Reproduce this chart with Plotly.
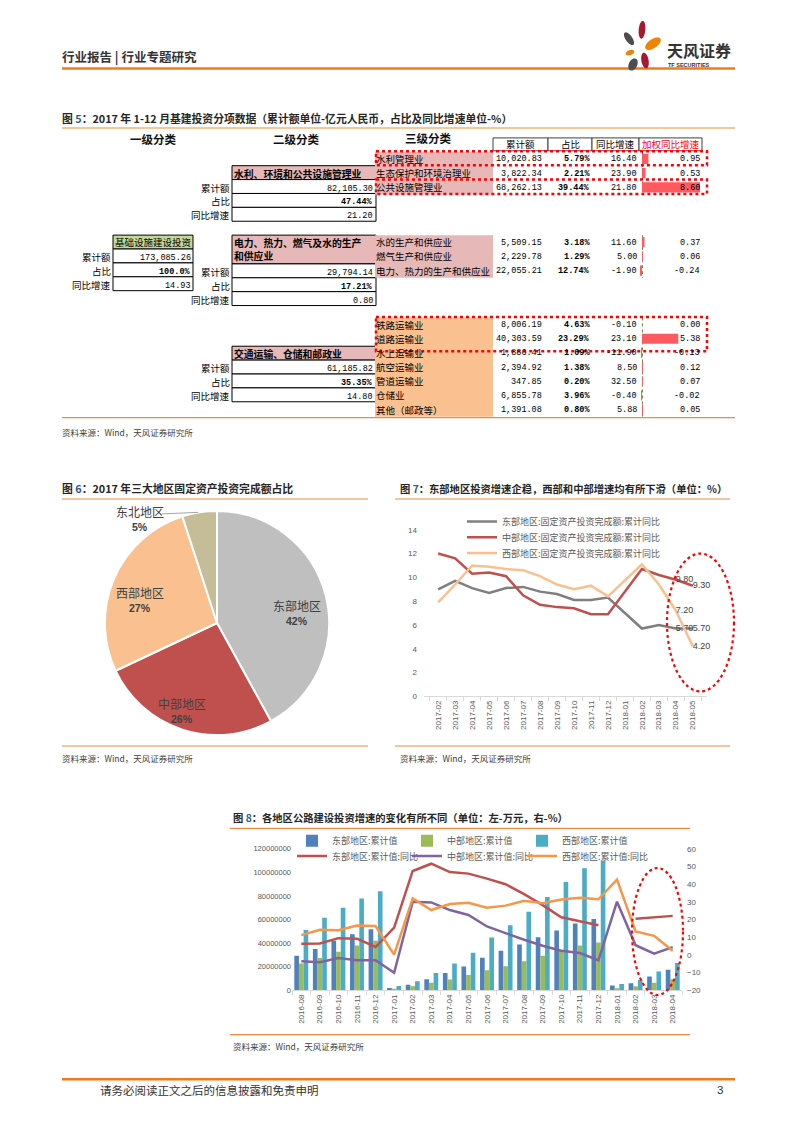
import math
import plotly.graph_objects as go

W, H = 793, 1122
CJK = "Noto Sans CJK SC"
MONO = "Liberation Mono"
SANS = "Liberation Sans"

# ======================= DATA =======================
# Figure 5: 2017年1-12月基建投资分项数据
LEVEL_HEADERS = ["一级分类", "二级分类", "三级分类"]
COL_HEADERS = ["累计额", "占比", "同比增速", "加权同比增速"]
ROW_LABELS = ["累计额", "占比", "同比增速"]

L1_NAME = "基础设施建设投资"
L1_TOTAL = 173085.26
L1_SHARE = 100.0
L1_YOY = 14.93

L2_NAMES = ["水利、环境和公共设施管理业", "电力、热力、燃气及水的生产<br>和供应业", "交通运输、仓储和邮政业"]
L2_TOTAL = [82105.30, 29794.14, 61185.82]
L2_SHARE = [47.44, 17.21, 35.35]
L2_YOY = [21.20, 0.80, 14.80]

WATER_NAMES = ["水利管理业", "生态保护和环境治理业", "公共设施管理业"]
WATER_TOTAL = [10020.83, 3822.34, 68262.13]
WATER_SHARE = [5.79, 2.21, 39.44]
WATER_YOY = [16.40, 23.90, 21.80]
WATER_WYOY = [0.95, 0.53, 8.60]

POWER_NAMES = ["水的生产和供应业", "燃气生产和供应业", "电力、热力的生产和供应业"]
POWER_TOTAL = [5509.15, 2229.78, 22055.21]
POWER_SHARE = [3.18, 1.29, 12.74]
POWER_YOY = [11.60, 5.00, -1.90]
POWER_WYOY = [0.37, 0.06, -0.24]

TRANS_NAMES = ["铁路运输业", "道路运输业", "水上运输业", "航空运输业", "管道运输业", "仓储业", "其他（邮政等）"]
TRANS_TOTAL = [8006.19, 40303.59, 1886.41, 2394.92, 347.85, 6855.78, 1391.08]
TRANS_SHARE = [4.63, 23.29, 1.09, 1.38, 0.20, 3.96, 0.80]
TRANS_YOY = [-0.10, 23.10, -11.90, 8.50, 32.50, -0.40, 5.88]
TRANS_WYOY = [0.00, 5.38, -0.13, 0.12, 0.07, -0.02, 0.05]

# Figure 6: 2017年三大地区固定资产投资完成额占比
PIE_LABELS = ["东部地区", "中部地区", "西部地区", "东北地区"]
PIE_VALUES = [42, 26, 27, 5]

# Figure 7: 固定资产投资完成额累计同比(%)
MONTHS7 = ["2017-02", "2017-03", "2017-04", "2017-05", "2017-06", "2017-07", "2017-08", "2017-09",
           "2017-10", "2017-11", "2017-12", "2018-01", "2018-02", "2018-03", "2018-04", "2018-05"]
EAST7 = [9.0, 9.7, 9.1, 8.7, 9.1, 9.2, 8.8, 8.6, 8.1, 8.1, 8.3, None, 5.7, 6.0, 5.7, 5.7]
MID7 = [12.0, 11.6, 10.3, 10.4, 10.1, 8.5, 7.7, 7.5, 7.4, 6.9, 6.9, None, 10.7, 10.2, 9.8, 9.3]
WEST7 = [7.9, 9.4, 11.0, 10.9, 10.7, 10.6, 10.1, 9.4, 9.0, 9.3, 8.4, None, 11.1, 9.4, 7.2, 4.2]
NAMES7 = ["东部地区:固定资产投资完成额:累计同比", "中部地区:固定资产投资完成额:累计同比",
          "西部地区:固定资产投资完成额:累计同比"]

# Figure 8: 各地区公路建设投资 (左: 万元, 右: %)
MONTHS8 = ["2016-08", "2016-09", "2016-10", "2016-11", "2016-12", "2017-01", "2017-02", "2017-03",
           "2017-04", "2017-05", "2017-06", "2017-07", "2017-08", "2017-09", "2017-10", "2017-11",
           "2017-12", "2018-01", "2018-02", "2018-03", "2018-04"]
EAST8_CUM = [29400000, 35000000, 42000000, 47600000, 51800000, 2000000, 4800000, 9500000, 14600000,
             20200000, 27700000, 33600000, 38900000, 45100000, 50700000, 56600000, 60500000,
             4200000, 5900000, 11800000, 17400000]
MID8_CUM = [22700000, 27400000, 32700000, 38000000, 42000000, 1100000, 3400000, 6400000, 9200000,
            12900000, 17100000, 20400000, 24600000, 29400000, 33600000, 38100000, 40600000,
            1700000, 3400000, 6400000, 9500000]
WEST8_CUM = [51200000, 61500000, 70000000, 77800000, 84000000, 3600000, 7800000, 14600000, 22700000,
             31900000, 44800000, 55200000, 66600000, 79200000, 92000000, 103500000, 110000000,
             5300000, 8700000, 16000000, 23200000]
EAST8_YOY = [6.4, 6.5, 9.5, 9.2, 4.5, 15.5, 47.5, 51.6, 46.9, 46.0, 43.2, 40.0, 34.4, 28.2, 21.3,
             19.0, 16.8, None, 20.5, 21.3, 22.1]
MID8_YOY = [-3.5, -4.1, -1.7, -3.0, -3.0, -10.1, 30.1, 29.7, 25.4, 22.6, 16.1, 12.3, 8.6, 5.2, 2.4,
            1.1, -3.0, 30.1, 5.5, 0.7, 4.4]
WEST8_YOY = [11.2, 14.2, 14.0, 16.6, 16.4, 0.2, 32.0, 25.4, 28.8, 29.5, 26.7, 27.9, 30.7, 29.2, 31.4,
             32.3, 31.5, 42.6, 13.3, 10.8, 2.4]
NAMES8_CUM = ["东部地区:累计值", "中部地区:累计值", "西部地区:累计值"]
NAMES8_YOY = ["东部地区:累计值:同比", "中部地区:累计值:同比", "西部地区:累计值:同比"]

# ======================= STYLE / LAYOUT =======================
ORANGE = "#EC7C1E"
TITLE_LINE = "#F08A3C"
PINK = "#E6B8B7"
PEACH = "#FAC090"
GREEN_BOX = "#C4D79B"
BAR_RED = "#FF5A5F"
DOT_RED = "#FF0000"
TXT = "#262626"


def X(px):
    return px / W


def Y(py):
    return 1 - py / H


anns = []
shapes = []


def text(x, y, s, size=9.5, color="#000000", anchor="left", family=CJK, vanchor="middle"):
    anns.append(dict(x=x, y=y, xref="x", yref="y", text=s, showarrow=False,
                     xanchor=anchor, yanchor=vanchor, borderpad=0, borderwidth=0,
                     align=anchor if anchor in ("left", "right") else "center",
                     font=dict(family=family, size=size, color=color)))


def rect(x0, y0, x1, y1, fill=None, line=None, lw=1.0, dash="solid", layer="below"):
    shapes.append(dict(type="rect", xref="x", yref="y", x0=x0, y0=y0, x1=x1, y1=y1,
                       fillcolor=fill if fill else "rgba(0,0,0,0)",
                       line=dict(color=line if line else "rgba(0,0,0,0)",
                                 width=lw if line else 0, dash=dash),
                       layer=layer))


def seg(x0, y0, x1, y1, color, lw=1.0, dash="solid", layer="above"):
    shapes.append(dict(type="line", xref="x", yref="y", x0=x0, y0=y0, x1=x1, y1=y1,
                       line=dict(color=color, width=lw, dash=dash), layer=layer))


def ellipse(x0, y0, x1, y1, color, lw=2.2, dash="dot"):
    shapes.append(dict(type="circle", xref="x", yref="y", x0=x0, y0=y0, x1=x1, y1=y1,
                       line=dict(color=color, width=lw, dash=dash), layer="above"))


def petal(cx, cy, rx, ry, ang, color):
    a = math.radians(ang)
    pts = []
    for k in range(36):
        t = 2 * math.pi * k / 36
        ex, ey = rx * math.cos(t), ry * math.sin(t)
        pts.append((cx + ex * math.cos(a) - ey * math.sin(a), cy + ex * math.sin(a) + ey * math.cos(a)))
    path = "M" + " L".join(f"{px:.2f},{py:.2f}" for px, py in pts) + " Z"
    shapes.append(dict(type="path", xref="x", yref="y", path=path, fillcolor=color,
                       line=dict(width=0), layer="above"))


def fmt_total(v):
    return f"{v:,.2f}"


def fmt_pct(v):
    return f"<b>{v:.2f}%</b>"


def fmt_num(v):
    return f"{v:.2f}"


# ---------------- page header / footer ----------------
text(62, 53, "<b>行业报告 | 行业专题研究</b>", size=12.5, color="#333333")
seg(62, 65, 735, 65, ORANGE, lw=2.5)
petal(629, 35, 3.3, 7.5, -35, "#4D4D4D")
petal(642, 26, 3.3, 9.0, 5, "#A6192E")
petal(653, 40, 4.5, 9.0, 55, "#F08300")
petal(630, 49, 2.5, 4.5, 70, "#F08300")
petal(645, 57, 3.6, 8.0, -10, "#A6192E")
petal(633, 61, 4.2, 6.5, 25, "#4D4D4D")
text(667, 46, "<b>天风证券</b>", size=16, color="#333333")
text(668, 61, "<b>TF SECURITIES</b>", size=5.5, color="#333333", family=SANS)
seg(62, 1084, 735, 1084, ORANGE, lw=2.5)
text(100, 1095, "请务必阅读正文之后的信息披露和免责申明", size=11.5, color="#333333")
text(723, 1095, "3", size=11.5, color="#333333", anchor="right", family=SANS)

# ---------------- Figure 5 table ----------------
text(62, 115, "<b>图 <span style='color:#2F5A8A'>5</span>：2017 年 1-12 月基建投资分项数据（累计额单位-亿元人民币，占比及同比增速单位-%）</b>",
     size=10.8, color=TXT)
seg(62, 125, 735, 125, TITLE_LINE, lw=1.2)
seg(62, 417, 735, 417, TITLE_LINE, lw=1.2)
text(62, 431, "资料来源：Wind，天风证券研究所", size=8.5, color="#404040")

for label, cx, cy in zip(LEVEL_HEADERS, [153, 296, 428], [136.5, 136.5, 135]):
    text(cx, cy, f"<b>{label}</b>", size=11.5, color="#111111", anchor="center")

COL_X = [493, 548, 592, 639, 702]
for i, h in enumerate(COL_HEADERS):
    rect(COL_X[i], 135, COL_X[i + 1], 148, fill="#FFFFFF", line="#404040", lw=1)
    text((COL_X[i] + COL_X[i + 1]) / 2, 141.5, h, size=9.5,
         color="#FF0000" if i == 3 else "#000000", anchor="center")

# level 1
rect(113, 233, 193, 247, fill=GREEN_BOX, line="#000000")
text(153, 240, L1_NAME, size=9.5, anchor="center")
l1_vals = [fmt_total(L1_TOTAL), f"<b>{L1_SHARE:.1f}%</b>", fmt_num(L1_YOY)]
for i, v in enumerate(l1_vals):
    top = 247 + 14 * i
    rect(113, top, 193, top + 14, fill="#FFFFFF", line="#000000")
    text(191, top + 9, v, size=8.5, family=MONO, anchor="right")
    text(111, top + 8, ROW_LABELS[i], size=9.5, anchor="right")

# level 2
L2_HEAD = [(163, 177), (233, 262), (345, 359)]
for k in range(3):
    h0, h1 = L2_HEAD[k]
    rect(232, h0, 376, h1, fill=PINK, line="#000000")
    text(234, h0 + 1, f"<b>{L2_NAMES[k]}</b>", size=9.8, vanchor="top")
    vals = [fmt_total(L2_TOTAL[k]), fmt_pct(L2_SHARE[k]), fmt_num(L2_YOY[k])]
    for i, v in enumerate(vals):
        top = h1 + 14 * i
        rect(232, top, 376, top + 14, fill="#FFFFFF", line="#000000")
        text(373, top + 9, v, size=8.5, family=MONO, anchor="right")
        text(230, top + 8, ROW_LABELS[i], size=9.5, anchor="right")

# level 3
SECTIONS = [
    (WATER_NAMES, WATER_TOTAL, WATER_SHARE, WATER_YOY, WATER_WYOY, (149, 192), PINK, "#404040"),
    (POWER_NAMES, POWER_TOTAL, POWER_SHARE, POWER_YOY, POWER_WYOY, (233, 276), PINK, "#6E8B3D"),
    (TRANS_NAMES, TRANS_TOTAL, TRANS_SHARE, TRANS_YOY, TRANS_WYOY, (316, 416), PEACH, "#6E8B3D"),
]
bar_traces = []
axes_extra = {}
for k, (names, tot, sh, yoy, wy, (top, bot), bg, axc) in enumerate(SECTIONS):
    rect(375, top, 493, bot, fill=bg)
    n = len(names)
    rh = (bot - top) / n
    for i in range(n):
        yc = top + (i + 0.5) * rh
        text(376, yc, names[i], size=9.5)
        text(542, yc + 0.5, fmt_total(tot[i]), size=8.5, family=MONO, anchor="right")
        text(590, yc + 0.5, fmt_pct(sh[i]), size=8.5, family=MONO, anchor="right")
        text(637, yc + 0.5, fmt_num(yoy[i]), size=8.5, family=MONO, anchor="right")
        text(700, yc + 0.5, fmt_num(wy[i]), size=8.5, family=MONO, anchor="right")
    seg(642.5, top, 642.5, bot, axc, lw=1, dash="dot", layer="below")
    ax = 5 + k
    bar_traces.append(go.Bar(x=wy, y=names, orientation="h", width=0.72,
                             marker=dict(color=BAR_RED, line=dict(width=0)),
                             xaxis=f"x{ax}", yaxis=f"y{ax}", showlegend=False, hoverinfo="skip"))
    axes_extra[f"xaxis{ax}"] = dict(domain=[X(638), X(703)], range=[-0.593, 9.045], visible=False,
                                    fixedrange=True, anchor=f"y{ax}")
    axes_extra[f"yaxis{ax}"] = dict(domain=[Y(bot), Y(top)], type="category", categoryorder="array",
                                    categoryarray=names, range=[n - 0.5, -0.5], visible=False,
                                    fixedrange=True, anchor=f"x{ax}")

# red dotted highlight boxes
rect(376, 148.5, 707, 162.5, line=DOT_RED, lw=2.5, dash="dot", layer="above")
rect(376, 177, 707, 191.5, line=DOT_RED, lw=2.5, dash="dot", layer="above")
rect(376, 315.5, 707, 350, line=DOT_RED, lw=2.5, dash="dot", layer="above")

# ---------------- Figure 6 pie ----------------
text(62, 488, "<b>图 <span style='color:#2F5A8A'>6</span>：2017 年三大地区固定资产投资完成额占比</b>", size=10.8, color=TXT)
seg(62, 499, 368, 499, TITLE_LINE, lw=1.2)
seg(62, 748, 368, 748, TITLE_LINE, lw=1.2)
text(62, 760, "资料来源：Wind，天风证券研究所", size=8.5, color="#404040")

pie = go.Pie(labels=PIE_LABELS, values=PIE_VALUES, sort=False, direction="clockwise", rotation=0,
             marker=dict(colors=["#BFBFBF", "#C0504D", "#FAC090", "#C4BD97"],
                         line=dict(color="#FFFFFF", width=2)),
             textinfo="none", hoverinfo="skip", showlegend=False,
             domain=dict(x=[X(104), X(330)], y=[Y(737), Y(511)]))
PIE_POS = [(297, 606.5), (182, 705), (140, 593), (140, 511.5)]
for lab, val, (px, py) in zip(PIE_LABELS, PIE_VALUES, PIE_POS):
    text(px, py, lab, size=12, color="#404040", anchor="center")
    text(px, py + 15.5, f"<b>{val}%</b>", size=10.5, color="#404040", anchor="center", family=SANS)
seg(162, 514, 198, 512.5, "#A6A6A6", lw=1)

# ---------------- Figure 7 lines ----------------
text(400, 488.5, "<b>图 <span style='color:#2F5A8A'>7</span>：东部地区投资增速企稳，西部和中部增速均有所下滑（单位：%）</b>",
     size=10.3, color=TXT)
seg(395, 499, 730, 499, TITLE_LINE, lw=1.2)
seg(395, 748, 730, 748, TITLE_LINE, lw=1.2)
text(400, 760, "资料来源：Wind，天风证券研究所", size=8.5, color="#404040")
ellipse(667, 554, 734, 693, DOT_RED, lw=2.2)


def last_two_labels(vals):
    return [f"{v:.2f}" if (i >= len(vals) - 2 and v is not None) else "" for i, v in enumerate(vals)]


line_traces7 = []
for vals, name, color, lg in zip([EAST7, MID7, WEST7], NAMES7, ["#7F7F7F", "#C0504D", "#FAC090"],
                                 ["legend", "legend2", "legend3"]):
    line_traces7.append(go.Scatter(x=MONTHS7, y=vals, name=name, mode="lines+text",
                                   text=last_two_labels(vals), textposition="middle right",
                                   textfont=dict(family=SANS, size=9, color="#404040"),
                                   line=dict(color=color, width=2.5), connectgaps=True,
                                   cliponaxis=False, xaxis="x2", yaxis="y2", legend=lg,
                                   hoverinfo="skip"))

# ---------------- Figure 8 bars + lines ----------------
text(233, 820, "<b>图 <span style='color:#2F5A8A'>8</span>：各地区公路建设投资增速的变化有所不同（单位：左-万元，右-%）</b>",
     size=10.3, color=TXT)
seg(230, 831, 690, 831, TITLE_LINE, lw=1.2)
seg(230, 1039, 690, 1039, TITLE_LINE, lw=1.2)
text(233, 1050, "资料来源：Wind，天风证券研究所", size=8.5, color="#404040")
ellipse(632, 871, 683, 999, DOT_RED, lw=2.2)

traces8 = []
for vals, name, color, lg in zip([EAST8_CUM, MID8_CUM, WEST8_CUM], NAMES8_CUM,
                                 ["#4F81BD", "#9BBB59", "#4BACC6"], ["legend4", "legend5", "legend6"]):
    traces8.append(go.Bar(x=MONTHS8, y=vals, name=name, marker=dict(color=color, line=dict(width=0)),
                          xaxis="x3", yaxis="y3", legend=lg, hoverinfo="skip"))
for vals, name, color, lg in zip([EAST8_YOY, MID8_YOY, WEST8_YOY], NAMES8_YOY,
                                 ["#C0504D", "#8064A2", "#F79646"], ["legend7", "legend8", "legend9"]):
    traces8.append(go.Scatter(x=MONTHS8, y=vals, name=name, mode="lines",
                              line=dict(color=color, width=2.5), connectgaps=False,
                              xaxis="x3", yaxis="y4", legend=lg, hoverinfo="skip"))

# dummy trace to create the full-page reference subplot
page = go.Scatter(x=[None], y=[None], xaxis="x", yaxis="y", showlegend=False, hoverinfo="skip")

fig = go.Figure(data=[page] + bar_traces + [pie] + line_traces7 + traces8)

tick_font = dict(family=SANS, size=8, color="#595959")
legend_font = dict(family=CJK, size=9, color="#595959")


def legend_at(px_text, py):
    return dict(x=X(px_text - 40), y=Y(py), xanchor="left", yanchor="middle", orientation="v",
                bgcolor="rgba(0,0,0,0)", borderwidth=0, font=legend_font, itemwidth=30,
                tracegroupgap=0)


layout = dict(
    width=W, height=H, autosize=False,
    margin=dict(l=0, r=0, t=0, b=0, pad=0),
    paper_bgcolor="#FFFFFF", plot_bgcolor="rgba(0,0,0,0)",
    barmode="group", bargap=0.25, bargroupgap=0,
    annotations=anns, shapes=shapes,
    xaxis=dict(domain=[0, 1], range=[0, W], visible=False, fixedrange=True, anchor="y"),
    yaxis=dict(domain=[0, 1], range=[H, 0], visible=False, fixedrange=True, anchor="x"),
    xaxis2=dict(domain=[X(424), X(707)], type="category", categoryorder="array", categoryarray=MONTHS7,
                tickangle=-90, tickfont=tick_font, showline=True, linecolor="#D9D9D9", linewidth=1,
                ticks="outside", tickson="boundaries", ticklen=4, tickcolor="#D9D9D9",
                showgrid=False, zeroline=False, anchor="y2", fixedrange=True),
    yaxis2=dict(domain=[Y(698), Y(530)], range=[0, 14], dtick=2, tickfont=tick_font, showgrid=False,
                zeroline=False, showline=False, anchor="x2", fixedrange=True, ticklabelstandoff=6),
    xaxis3=dict(domain=[X(292), X(682)], type="category", categoryorder="array", categoryarray=MONTHS8,
                tickangle=-90, tickfont=tick_font, showline=True, linecolor="#D9D9D9", linewidth=1,
                ticks="outside", tickson="boundaries", ticklen=4, tickcolor="#D9D9D9",
                showgrid=False, zeroline=False, anchor="y3", fixedrange=True),
    yaxis3=dict(domain=[Y(994.3), Y(851.7)], range=[0, 120000000], dtick=20000000, tickformat="d",
                tickfont=dict(family=SANS, size=7.5, color="#595959"), showgrid=False, zeroline=False,
                showline=False, anchor="x3", fixedrange=True),
    yaxis4=dict(domain=[Y(994.3), Y(851.7)], range=[-20, 60], dtick=10, overlaying="y3", side="right",
                tickfont=tick_font, showgrid=False, zeroline=False, showline=False, anchor="x3",
                fixedrange=True, ticklabelstandoff=4),
    legend=legend_at(502, 521.7),
    legend2=legend_at(502, 537.5),
    legend3=legend_at(502, 553.5),
    legend4=legend_at(332, 843.5),
    legend5=legend_at(447, 843.5),
    legend6=legend_at(562, 843.5),
    legend7=legend_at(332, 859),
    legend8=legend_at(447, 859),
    legend9=legend_at(562, 859),
)
layout.update(axes_extra)
fig.update_layout(**layout)

fig.write_html("out.html", config={"displayModeBar": False},
               post_script="document.body.style.margin='0';")
